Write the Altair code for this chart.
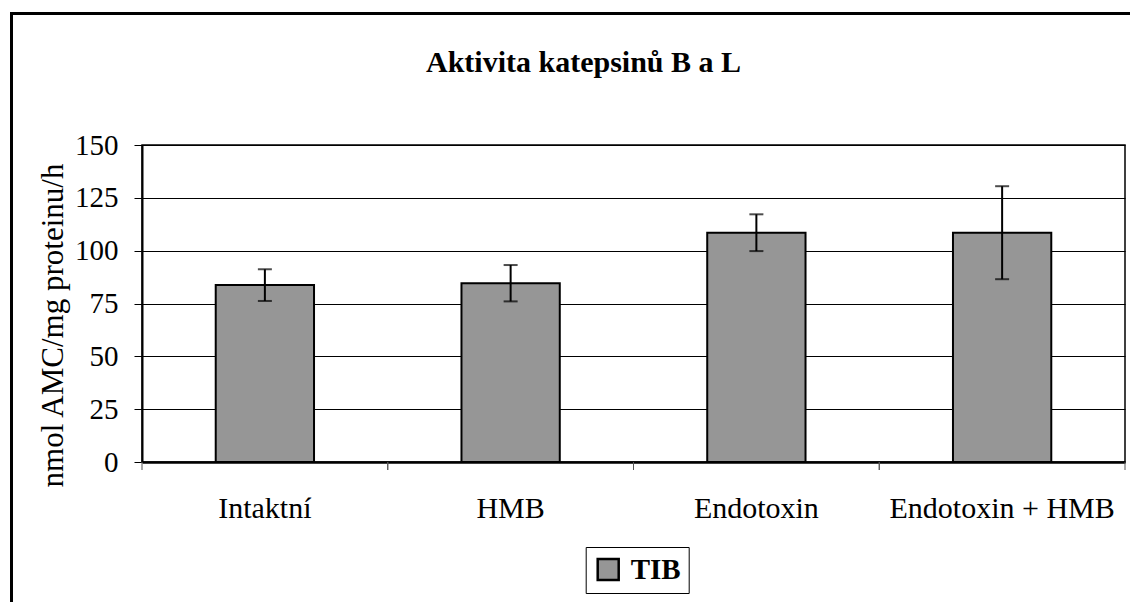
import altair as alt
import pandas as pd

categories = ["Intaktní", "HMB", "Endotoxin", "Endotoxin + HMB"]
means = [83.7, 84.6, 108.5, 108.5]
errors = [7.5, 8.6, 8.7, 22.0]
series = ["TIB", "TIB", "TIB", "TIB"]
y_ticks = [0, 25, 50, 75, 100, 125, 150]

df = pd.DataFrame({
    "cat": categories,
    "mean": means,
    "low": [m - e for m, e in zip(means, errors)],
    "high": [m + e for m, e in zip(means, errors)],
    "series": series,
})

FONT = "Liberation Serif"
W, H = 983, 317

xs = alt.Scale(domain=categories, paddingInner=0.6, paddingOuter=0.3)
xax = alt.Axis(title=None, labelAngle=0, labelFont=FONT, labelFontSize=30,
               labelColor="black", labelPadding=31, ticks=False, tickSize=0,
               labelLimit=0, domainColor="black", domainWidth=2.5)
ys = alt.Scale(domain=[0, 150], nice=False)
yax = alt.Axis(values=y_ticks, title="nmol AMC/mg proteinu/h", titleFont=FONT,
               titleFontSize=31, titleFontWeight="normal", titleColor="black",
               titleAngle=-90, titleX=-80, titleY=180, titleBaseline="alphabetic",
               titleAlign="center",
               labelFont=FONT, labelFontSize=29, labelColor="black", labelPadding=16,
               tickSize=8, tickColor="black", tickWidth=1,
               domainColor="black", domainWidth=2,
               grid=True, gridColor="black", gridWidth=1)

base = alt.Chart(df)

bars = base.mark_bar(stroke="black", strokeWidth=2).encode(
    x=alt.X("cat:N", scale=xs, axis=xax, sort=categories),
    y=alt.Y("mean:Q", scale=ys, axis=yax),
    color=alt.Color("series:N", scale=alt.Scale(range=["#969696"]),
                    legend=alt.Legend(orient="none", legendX=443.7, legendY=402,
                                      title=None, symbolType="square", symbolSize=441,
                                      symbolStrokeColor="black", symbolStrokeWidth=2.5,
                                      labelFont=FONT, labelFontSize=29,
                                      labelFontWeight="bold", labelColor="black",
                                      labelOffset=8, strokeColor="black",
                                      padding=8, fillColor="white")),
)

err_line = base.mark_rule(color="black", strokeWidth=2).encode(
    x=alt.X("cat:N", scale=xs, sort=categories),
    y=alt.Y("low:Q", scale=ys),
    y2="high:Q",
)
cap_low = base.mark_tick(color="black", thickness=2, size=14).encode(
    x=alt.X("cat:N", scale=xs, sort=categories),
    y=alt.Y("low:Q", scale=ys),
)
cap_high = base.mark_tick(color="black", thickness=2, size=14).encode(
    x=alt.X("cat:N", scale=xs, sort=categories),
    y=alt.Y("high:Q", scale=ys),
)

main = alt.layer(bars, err_line, cap_low, cap_high)

xs2 = alt.Scale(domain=categories, padding=0)
ticks0 = base.mark_rule(color="#555555", strokeWidth=1).encode(
    x=alt.X("cat:N", scale=xs2, axis=None, bandPosition=0, sort=categories),
    y=alt.value(H), y2=alt.value(H + 8),
)
ticks1 = base.mark_rule(color="#555555", strokeWidth=1).encode(
    x=alt.X("cat:N", scale=xs2, axis=None, bandPosition=1, sort=categories),
    y=alt.value(H), y2=alt.value(H + 8),
)
tick_layer = alt.layer(ticks0, ticks1)

deco_df = pd.DataFrame({"k": [0]})
frame = alt.Chart(deco_df).mark_rect(fill=None, stroke="black", strokeWidth=3).encode(
    x=alt.value(-130.5), x2=alt.value(1300), y=alt.value(-131.5), y2=alt.value(700)
)
title = alt.Chart(deco_df).mark_text(font=FONT, fontSize=30, fontWeight="bold",
                                     color="black", align="center",
                                     baseline="alphabetic").encode(
    x=alt.value(441.5), y=alt.value(-73), text=alt.value("Aktivita katepsinů B a L")
)

chart = alt.layer(main, tick_layer, frame, title).resolve_scale(x="independent").properties(
    width=W, height=H,
    autosize=alt.AutoSizeParams(type="none"),
    padding={"left": 134, "top": 137, "right": 5, "bottom": 140},
    background="white",
).configure_view(stroke="black", strokeWidth=1.5)

chart.save("out.html", embed_options={"renderer": "svg", "actions": False})
